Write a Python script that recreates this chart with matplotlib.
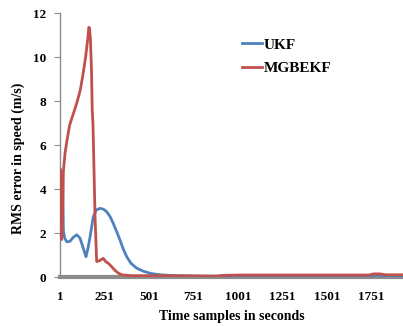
import matplotlib
matplotlib.use("Agg")
import matplotlib.pyplot as plt

# UKF series (sample index, RMS error)
ukf_t = [1, 8, 16, 20, 28, 39, 57, 75, 95, 113, 130, 147, 158, 170, 188, 205, 226, 245, 263, 282, 300, 320, 338, 356, 376, 400, 432, 470, 507, 545, 581, 650, 800, 1000, 1250, 1500, 1740, 1760, 1800, 1830, 1930]
ukf_v = [4.9, 4.8, 4.7, 2.1, 1.75, 1.6, 1.62, 1.8, 1.92, 1.77, 1.35, 0.92, 1.3, 1.83, 2.74, 3.05, 3.12, 3.08, 2.97, 2.75, 2.44, 2.05, 1.68, 1.28, 0.92, 0.62, 0.4, 0.26, 0.17, 0.12, 0.09, 0.06, 0.04, 0.03, 0.03, 0.03, 0.03, 0.08, 0.08, 0.03, 0.03]

# MGBEKF series
mg_t = [1, 5, 10, 14, 20, 29, 38, 55, 75, 95, 115, 130, 145, 158, 163, 167, 172, 178, 182, 186, 190, 198, 207, 225, 244, 258, 271, 282, 291, 310, 330, 348, 400, 600, 845, 880, 910, 1000, 1250, 1500, 1740, 1760, 1800, 1830, 1930]
mg_v = [4.9, 4.6, 1.7, 2.5, 4.8, 5.6, 6.1, 6.9, 7.4, 7.9, 8.5, 9.2, 10.0, 10.9, 11.35, 11.3, 10.8, 9.4, 7.6, 7.0, 5.6, 2.7, 0.7, 0.75, 0.85, 0.7, 0.63, 0.55, 0.47, 0.3, 0.17, 0.1, 0.06, 0.06, 0.04, 0.04, 0.07, 0.09, 0.09, 0.09, 0.09, 0.14, 0.14, 0.1, 0.1]

series_names = ["UKF", "MGBEKF"]
x_ticks = [1, 251, 501, 751, 1001, 1251, 1501, 1751]
y_ticks = [0, 2, 4, 6, 8, 10, 12]

font = "Liberation Serif"

fig = plt.figure(figsize=(4.03, 3.26), dpi=100)
ax = fig.add_axes([60/403, 49/326, 343/403, 264/326])

ax.plot(ukf_t, ukf_v, color="#4F81BD", lw=2.0, label=series_names[0], zorder=4, solid_joinstyle="round")
ax.plot(mg_t, mg_v, color="#C0504D", lw=2.0, label=series_names[1], zorder=4, solid_joinstyle="round")

ax.set_xlim(1, 1928)
ax.set_ylim(0, 12)
ax.set_xticks(x_ticks)
ax.set_yticks(y_ticks)
ax.set_xticklabels([str(t) for t in x_ticks], fontfamily=font, fontweight="bold", fontsize=9.5)
ax.set_yticklabels([str(t) for t in y_ticks], fontfamily=font, fontweight="bold", fontsize=9.5)

for s in ["top", "right"]:
    ax.spines[s].set_visible(False)
ax.spines["left"].set_color("#8c8c8c")
ax.spines["left"].set_linewidth(1.0)
ax.spines["bottom"].set_color("#8c8c8c")
ax.spines["bottom"].set_linewidth(3.0)
ax.spines["bottom"].set_zorder(3)
ax.tick_params(axis="y", direction="out", length=4, color="#8c8c8c", pad=6)
ax.tick_params(axis="x", length=0, pad=10)

ax.set_xlabel("Time samples in seconds", fontfamily=font, fontweight="bold", fontsize=10, labelpad=5)
ax.set_ylabel("RMS error in speed (m/s)", fontfamily=font, fontweight="bold", fontsize=10)
ax.yaxis.set_label_coords(-0.102, 0.45)

leg = ax.legend(loc="upper left", bbox_to_anchor=(0.53, 0.905), frameon=False,
                prop={"family": font, "weight": "bold", "size": 11},
                handlelength=1.3, handletextpad=0.15, labelspacing=0.63,
                borderpad=0, borderaxespad=0)

fig.savefig("out.png", dpi=100)
